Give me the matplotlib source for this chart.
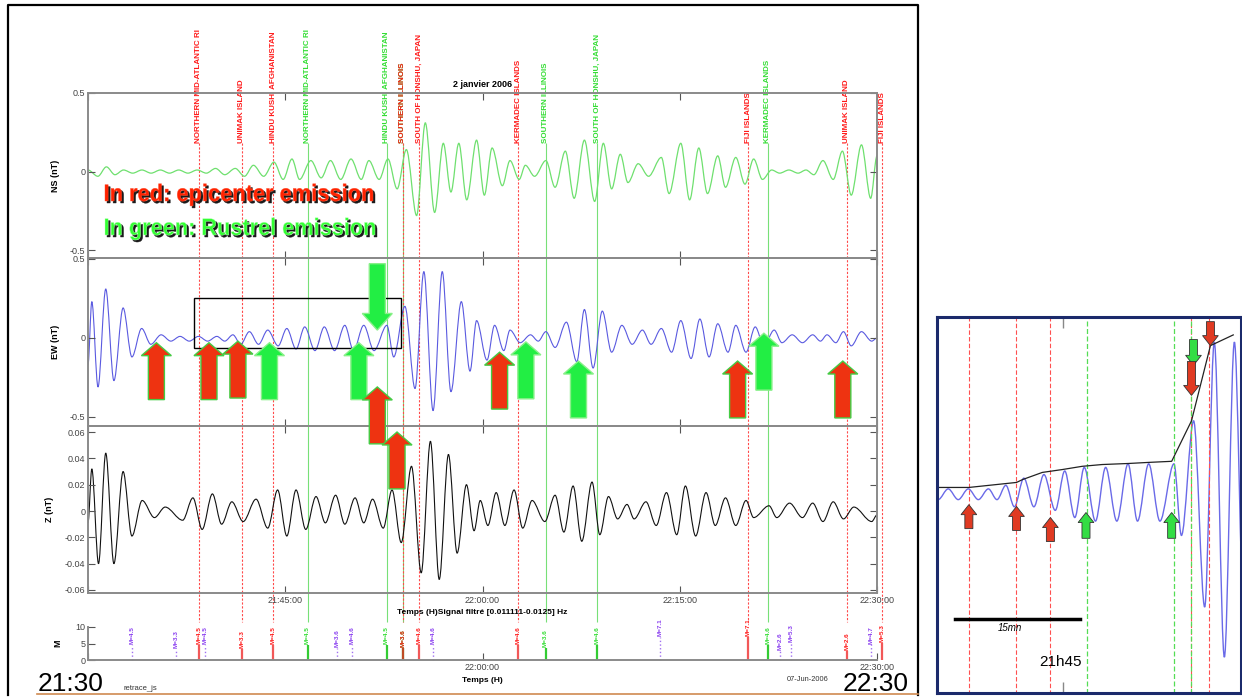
import numpy as np
import matplotlib.pyplot as plt
from matplotlib.path import Path
from matplotlib.patches import PathPatch, Polygon, Rectangle
from matplotlib.lines import Line2D
from matplotlib.textpath import TextPath
from matplotlib.font_manager import FontProperties
from matplotlib.transforms import Affine2D

plt.rcParams['font.family'] = ['Liberation Sans', 'DejaVu Sans']

# all times in minutes after 21:30:00 ; extrema of the filtered signals
ns_t = [0.0, 0.75, 1.4, 2.05, 2.7, 3.4, 4.1, 4.8, 5.5, 6.2,
        6.9, 7.6, 8.3, 9.0, 9.7, 10.4, 11.2, 11.9, 12.58, 13.36,
        14.14, 14.84, 15.51, 16.09, 16.95, 17.73, 18.44, 19.22, 20.0, 20.78,
        21.36, 22.14, 22.81, 23.51, 24.21, 24.99, 25.65, 26.36, 27.02, 27.6,
        28.2, 28.8, 29.55, 30.14, 30.73, 31.51, 32.09, 32.79, 33.26, 33.96,
        34.82, 35.52, 36.30, 36.97, 37.75, 38.53, 39.19, 39.82, 40.48, 41.06,
        41.84, 42.63, 43.60, 44.19, 45.08, 45.75, 46.45, 47.11, 47.89, 48.48,
        49.26, 49.96, 50.62, 51.29, 51.99, 52.6, 53.3, 54.0, 54.6, 55.2,
        55.89, 56.67, 57.37, 58.04, 58.82, 59.52, 60.0]
ns_v = [0.01, -0.03, 0.03, -0.02, 0.01, -0.01, 0.01, -0.01, 0.01, -0.01,
        0.01, -0.01, 0.01, -0.01, 0.02, -0.02, 0.02, -0.03, 0.04, -0.03,
        0.06, -0.05, 0.08, -0.05, 0.07, -0.04, 0.07, -0.05, 0.08, -0.05,
        0.07, -0.05, 0.08, -0.11, 0.14, -0.28, 0.31, -0.26, 0.18, -0.13,
        0.18, -0.18, 0.20, -0.15, 0.15, -0.09, 0.07, -0.05, 0.04, -0.03,
        0.07, -0.10, 0.13, -0.17, 0.20, -0.19, 0.18, -0.11, 0.11, -0.07,
        0.05, -0.03, 0.09, -0.14, 0.18, -0.18, 0.15, -0.14, 0.10, -0.10,
        0.09, -0.08, 0.08, -0.05, 0.01, -0.01, 0.01, -0.01, 0.01, -0.02,
        0.07, -0.05, 0.13, -0.15, 0.17, -0.17, 0.10]

ew_t = [0.0, 0.29, 0.76, 1.35, 1.97, 2.67, 3.34, 4.08, 4.78, 5.56,
        6.3, 7.0, 7.7, 8.4, 9.1, 9.8, 10.4, 11.02, 11.61, 12.27,
        12.97, 13.67, 14.46, 15.12, 15.82, 16.48, 17.26, 17.97, 18.75, 19.53,
        20.19, 20.97, 21.75, 22.73, 23.25, 24.1, 24.87, 25.54, 26.24, 26.94,
        27.60, 28.39, 29.05, 29.55, 30.34, 30.92, 31.62, 32.09, 32.87, 33.65,
        34.24, 34.82, 35.52, 36.38, 37.17, 37.75, 38.41, 39.11, 39.82, 40.60,
        41.38, 42.16, 42.82, 43.60, 44.38, 45.08, 45.86, 46.53, 47.23, 47.89,
        48.67, 49.26, 50.04, 50.74, 51.40, 52.18, 52.77, 53.55, 54.33, 55.11,
        55.70, 56.20, 56.87, 57.45, 58.04, 58.82, 59.60, 60.0]
ew_v = [-0.17, 0.23, -0.31, 0.31, -0.27, 0.19, -0.12, 0.06, -0.04, 0.02,
        -0.02, 0.01, -0.02, 0.01, -0.02, 0.01, -0.02, 0.02, -0.04, 0.04,
        -0.04, 0.05, -0.05, 0.06, -0.07, 0.07, -0.08, 0.07, -0.08, 0.08,
        -0.08, 0.08, -0.08, 0.08, -0.12, 0.20, -0.32, 0.42, -0.46, 0.42,
        -0.34, 0.23, -0.21, 0.11, -0.14, 0.08, -0.08, 0.05, -0.03, 0.02,
        -0.02, 0.04, -0.06, 0.10, -0.15, 0.18, -0.19, 0.17, -0.09, 0.08,
        -0.04, 0.05, -0.04, 0.06, -0.09, 0.11, -0.13, 0.12, -0.12, 0.09,
        -0.09, 0.08, -0.09, 0.07, -0.05, 0.05, -0.03, 0.02, -0.03, 0.02,
        -0.02, 0.02, -0.03, 0.04, -0.05, 0.04, -0.02, 0.0]

z_t = [0.0, 0.29, 0.80, 1.35, 1.97, 2.67, 3.34, 4.12, 5.05, 5.87,
       7.20, 7.98, 8.68, 9.46, 10.16, 10.94, 11.80, 12.78, 13.67, 14.42,
       15.12, 15.82, 16.56, 17.34, 18.05, 18.83, 19.53, 20.31, 20.97, 21.64,
       22.45, 23.12, 23.82, 24.60, 25.34, 26.04, 26.71, 27.41, 28.07, 28.78,
       29.36, 29.83, 30.41, 31.04, 31.70, 32.40, 33.06, 33.77, 34.74, 35.52,
       36.19, 36.89, 37.55, 38.33, 38.92, 39.58, 40.28, 40.99, 41.53, 42.43,
       43.21, 43.99, 44.77, 45.43, 46.21, 47.00, 47.70, 48.48, 49.26, 50.04,
       50.62, 51.79, 52.38, 53.35, 54.33, 55.11, 55.89, 56.67, 57.45, 58.24,
       59.60, 60.0]
z_v = [-0.009, 0.032, -0.040, 0.044, -0.040, 0.030, -0.019, 0.008, -0.005, 0.003,
       -0.007, 0.010, -0.014, 0.013, -0.010, 0.007, -0.008, 0.009, -0.013, 0.016,
       -0.019, 0.016, -0.014, 0.011, -0.009, 0.012, -0.010, 0.010, -0.009, 0.009,
       -0.013, 0.016, -0.024, 0.034, -0.047, 0.053, -0.052, 0.043, -0.032, 0.020,
       -0.015, 0.008, -0.011, 0.014, -0.011, 0.016, -0.013, 0.008, -0.008, 0.012,
       -0.016, 0.019, -0.023, 0.022, -0.018, 0.011, -0.006, 0.005, -0.006, 0.007,
       -0.011, 0.014, -0.018, 0.019, -0.019, 0.014, -0.011, 0.010, -0.011, 0.008,
       -0.005, 0.004, -0.005, 0.006, -0.005, 0.006, -0.008, 0.007, -0.006, 0.003,
       -0.008, -0.003]

# earthquakes: epicenter emission (red), Rustrel emission (green), others (purple)
red_t = [8.44, 11.7, 14.07, 23.95, 25.2, 32.7, 50.2, 57.7, 60.4]
red_names = ['NORTHERN MID-ATLANTIC RI', 'UNIMAK ISLAND', 'HINDU KUSH, AFGHANISTAN',
             'SOUTHERN ILLINOIS', 'SOUTH OF HONSHU, JAPAN', 'KERMADEC ISLANDS',
             'FIJI ISLANDS', 'UNIMAK ISLAND', 'FIJI ISLANDS']
red_mag = [4.5, 3.3, 4.5, 3.6, 4.6, 4.6, 7.1, 2.6, 5.3]
green_t = [16.7, 22.7, 23.95, 34.8, 38.7, 51.7]
green_names = ['NORTHERN MID-ATLANTIC RI', 'HINDU KUSH, AFGHANISTAN', 'SOUTHERN ILLINOIS',
               'SOUTHERN ILLINOIS', 'SOUTH OF HONSHU, JAPAN', 'KERMADEC ISLANDS']
green_mag = [4.5, 4.5, 3.6, 3.6, 4.6, 4.6]
other_t = [3.35, 6.69, 8.9, 18.94, 20.08, 26.24, 43.5, 52.62, 53.46, 59.54]
other_mag = [4.5, 3.3, 4.5, 3.6, 4.6, 4.6, 7.1, 2.6, 5.3, 4.7]

# arrows drawn on the EW panel (time, tip value)
up_red_t = [5.2, 9.2, 11.4, 31.3, 49.4, 57.4, 22.0, 23.5]
up_red_tip = [-0.03, -0.03, -0.02, -0.09, -0.146, -0.146, -0.31, -0.595]
up_green_t = [13.8, 20.6, 33.3, 37.3, 51.4]
up_green_tip = [-0.03, -0.03, -0.025, -0.146, 0.03]
down_green_t = [22.0]
down_green_tip = [0.05]

# zoomed inset: envelope and arrows
env_t = [6.22, 8.44, 11.76, 12.18, 13.56, 14.95, 16.33, 17.72, 19.59, 20.98, 22.57, 23.95, 25.27, 26.86]
env_v = [0.014, 0.014, 0.028, 0.036, 0.056, 0.064, 0.073, 0.078, 0.081, 0.084, 0.087, 0.20, 0.41, 0.44]
in_up_red_t = [8.44, 11.76, 14.12]
in_up_red_tip = [-0.034, -0.039, -0.07]
in_up_green_t = [16.6, 22.57]
in_up_green_tip = [-0.056, -0.056]
in_down_red_t = [23.95, 25.27]
in_down_red_tip = [0.271, 0.41]
in_down_green_t = [24.09]
in_down_green_tip = [0.355]

RED = '#ff1a1a'
GREEN = '#33dd33'
PURPLE = '#8a3ff0'

W_PX, H_PX = 1242, 700
L_PX, R_PX = 88, 877


def fx(x):
    return x / W_PX


def fy(y):
    return 1 - y / H_PX


def wave(t, v):
    verts = [(t[0], v[0])]
    codes = [Path.MOVETO]
    for i in range(len(t) - 1):
        dt = t[i + 1] - t[i]
        verts += [(t[i] + dt / 3, v[i]), (t[i] + 2 * dt / 3, v[i + 1]), (t[i + 1], v[i + 1])]
        codes += [Path.CURVE4] * 3
    return Path(verts, codes)


def arrow(t, tip, length, head, bw, hw, up=True):
    s = 1 if up else -1
    base = tip - s * length
    neck = tip - s * head
    return [(t, tip), (t + hw, neck), (t + bw, neck), (t + bw, base),
            (t - bw, base), (t - bw, neck), (t - hw, neck)]


fig = plt.figure(figsize=(12.42, 7.0), dpi=100)


def panel(top, bottom):
    return fig.add_axes([fx(L_PX), fy(bottom), (R_PX - L_PX) / W_PX, (bottom - top) / H_PX])


def squeezed(s, x, baseline, width, cap, color, edge):
    # condensed heavy caption, drawn as a horizontally squeezed text path
    tp = TextPath((0, 0), s, size=100, prop=FontProperties(family='Liberation Sans', weight='bold'))
    ext = tp.get_extents()
    sx = width / ext.width
    sy = cap / 71.6
    for dx, dy, fc, ec in [(2, -2, '#1a1a1a', '#1a1a1a'), (0, 0, color, edge)]:
        tr = Affine2D().scale(sx, sy).translate(x - ext.x0 * sx + dx, H_PX - baseline + dy)
        fig.add_artist(PathPatch(tp, transform=tr, facecolor=fc, edgecolor=ec, lw=0.3, zorder=10))


# overlay in (time, pixel) units for the event lines and their labels
ov = fig.add_axes([0, 0, 1, 1], zorder=0)
span = 60 / (R_PX - L_PX)
ov.set_xlim(-L_PX * span, (W_PX - L_PX) * span)
ov.set_ylim(H_PX, 0)
ov.axis('off')

ov.vlines(green_t, 143, 622, colors='#77e077', lw=0.8)
ov.vlines(red_t, 143, 622, colors='#ff4a4a', lw=0.8, linestyles=(0, (2, 1.5)))
for t, name in zip(green_t, green_names):
    ov.text(t, 143, name, rotation=90, ha='center', va='bottom', fontsize=5.8,
            fontweight='bold', color=GREEN)
for t, name in zip(red_t, red_names):
    ov.text(t, 143, name, rotation=90, ha='center', va='bottom', fontsize=5.8,
            fontweight='bold', color=RED)

ax_ns = panel(93, 258)
ax_ew = panel(258, 426)
ax_z = panel(426, 593)
ax_m = panel(627, 660)
ax_ns.set_zorder(1)
ax_ew.set_zorder(3)
ax_z.set_zorder(1)
ax_m.set_zorder(1)


def style(ax, ylim, yticks, ylabels, ylabel, lab_x):
    ax.set_facecolor('none')
    ax.set_xlim(0, 60)
    ax.set_ylim(*ylim)
    ax.set_xticks([0, 15, 30, 45, 60], ['', '21:45:00', '22:00:00', '22:15:00', '22:30:00'])
    ax.set_yticks(yticks, ylabels)
    ax.tick_params(direction='in', top=True, right=True, length=5, width=0.8,
                   color='#555555', labelsize=6.5, labelcolor='#444444', pad=2)
    for s in ax.spines.values():
        s.set_color('#8a8a8a')
        s.set_linewidth(1.4)
    ax.set_ylabel(ylabel, fontsize=6.5, fontweight='bold')
    ax.yaxis.set_label_coords(lab_x, 0.5)


style(ax_ns, (-0.55, 0.5), [-0.5, 0, 0.5], ['-0.5', '0', '0.5'], 'NS (nT)', -0.036)
style(ax_ew, (-0.557, 0.506), [-0.5, 0, 0.5], ['-0.5', '0', '0.5'], 'EW (nT)', -0.036)
style(ax_z, (-0.0623, 0.0646), [-0.06, -0.04, -0.02, 0, 0.02, 0.04, 0.06],
      ['-0.06', '-0.04', '-0.02', '0', '0.02', '0.04', '0.06'], 'Z (nT)', -0.043)
ax_ns.tick_params(labelbottom=False)
ax_ew.tick_params(labelbottom=False)

ax_ns.add_patch(PathPatch(wave(ns_t, ns_v), fill=False, edgecolor='#6fe06f', lw=0.9))
ax_ew.add_patch(PathPatch(wave(ew_t, ew_v), fill=False, edgecolor='#5a5ae0', lw=0.8))
ax_z.add_patch(PathPatch(wave(z_t, z_v), fill=False, edgecolor='#111111', lw=0.8))

ax_ns.set_title('2 janvier 2006', fontsize=6.5, fontweight='bold', pad=4)
ax_z.text(0.5, -(612 - 593) / 167, 'Temps (H)Signal filtré [0.011111-0.0125] Hz',
          transform=ax_z.transAxes, ha='center', va='center', fontsize=6, fontweight='bold')

squeezed('In red: epicenter emission', 105, 201, 268, 17, '#ff2200', '#ff5030')
squeezed('In green: Rustrel emission', 105, 235, 270, 17, '#33ff33', '#b8ffb8')

# arrows and box on EW panel
ax_ew.add_patch(Rectangle((8.06, -0.063), 23.8 - 8.06, 0.313, fill=False,
                          edgecolor='black', lw=1.0, zorder=4))
for t, tip in zip(up_green_t, up_green_tip):
    ax_ew.add_patch(Polygon(arrow(t, tip, 0.36, 0.082, 0.61, 1.14), closed=True,
                            facecolor='#22ee44', edgecolor='#88f088', lw=1, clip_on=False, zorder=5))
for t, tip in zip(down_green_t, down_green_tip):
    ax_ew.add_patch(Polygon(arrow(t, tip, 0.42, 0.105, 0.61, 1.14, up=False), closed=True,
                            facecolor='#22ee44', edgecolor='#88f088', lw=1, clip_on=False, zorder=5))
for t, tip in zip(up_red_t, up_red_tip):
    ax_ew.add_patch(Polygon(arrow(t, tip, 0.36, 0.082, 0.61, 1.14), closed=True,
                            facecolor='#ee3311', edgecolor='#44cc44', lw=1, clip_on=False, zorder=6))

# magnitude panel
ax_m.set_facecolor('none')
ax_m.set_xlim(0, 60)
ax_m.set_ylim(0, 10)
ax_m.set_xticks([0, 30, 60], ['', '22:00:00', '22:30:00'])
ax_m.set_yticks([0, 5, 10], ['0', '5', '10'])
ax_m.tick_params(direction='in', length=5, width=0.8, color='#555555', labelsize=6.5,
                 labelcolor='#444444', pad=2)
for k in ['top', 'right']:
    ax_m.spines[k].set_visible(False)
for k in ['left', 'bottom']:
    ax_m.spines[k].set_color('#8a8a8a')
    ax_m.spines[k].set_linewidth(1.4)
ax_m.set_ylabel('M', fontsize=6.5, fontweight='bold')
ax_m.yaxis.set_label_coords(-0.032, 0.5)
ax_m.text(0.5, -(680 - 660) / 33, 'Temps (H)', transform=ax_m.transAxes, ha='center',
          va='center', fontsize=6, fontweight='bold')

ax_m.vlines(other_t, 0, other_mag, colors='#a070f0', lw=1, linestyles=':', clip_on=False)
ax_m.vlines(green_t, 0, green_mag, colors='#33cc33', lw=1.6, clip_on=False)
ax_m.vlines(red_t, 0, red_mag, colors='#ee2020', lw=1.6, alpha=0.75, clip_on=False)
for ts, ms, c in [(other_t, other_mag, PURPLE), (green_t, green_mag, GREEN), (red_t, red_mag, RED)]:
    for t, m in zip(ts, ms):
        ax_m.text(t, m + 0.3, f'M={m}', rotation=90, ha='center', va='bottom', fontsize=4.6,
                  fontweight='bold', color=c, clip_on=False)

# zoomed inset on the right
ax_in = fig.add_axes([fx(937), fy(693), 304 / W_PX, 376 / H_PX], zorder=2)
ax_in.set_xlim(6.22, 27.4)
ax_in.set_ylim(-0.56, 0.49)
ax_in.set_xticks([15])
ax_in.set_yticks([])
ax_in.tick_params(axis='x', direction='in', length=8, width=1, color='#888888',
                  top=True, bottom=True, labelbottom=False)
for s in ax_in.spines.values():
    s.set_color('#1b2a6b')
    s.set_linewidth(2.2)
ax_in.vlines(red_t, -1, 1, colors='#ff5050', lw=0.8, linestyles=(0, (4, 2)))
ax_in.vlines(green_t, -1, 1, colors='#55dd55', lw=0.9, linestyles=(0, (4, 2)))
ax_in.add_patch(PathPatch(wave(ew_t, ew_v), fill=False, edgecolor='#6a6ae8', lw=1.0))
ax_in.plot(env_t, env_v, color='#222222', lw=0.9)
for t, tip in zip(in_up_red_t, in_up_red_tip):
    ax_in.add_patch(Polygon(arrow(t, tip, 0.067, 0.028, 0.28, 0.55), closed=True,
                            facecolor='#e03a22', edgecolor='#333333', lw=0.6, zorder=5))
for t, tip in zip(in_up_green_t, in_up_green_tip):
    ax_in.add_patch(Polygon(arrow(t, tip, 0.072, 0.028, 0.28, 0.55), closed=True,
                            facecolor='#33dd44', edgecolor='#333333', lw=0.6, zorder=5))
for t, tip in zip(in_down_green_t, in_down_green_tip):
    ax_in.add_patch(Polygon(arrow(t, tip, 0.072, 0.028, 0.28, 0.55, up=False), closed=True,
                            facecolor='#33dd44', edgecolor='#333333', lw=0.6, zorder=5))
for t, tip, ln in zip(in_down_red_t, in_down_red_tip, [0.095, 0.067]):
    ax_in.add_patch(Polygon(arrow(t, tip, ln, 0.028, 0.28, 0.55, up=False), closed=True,
                            facecolor='#e03a22', edgecolor='#333333', lw=0.6, zorder=5))
ax_in.plot([0.059, 0.47], [0.197, 0.197], transform=ax_in.transAxes, color='black', lw=2.5)
ax_in.text(0.24, 0.172, '15mn', transform=ax_in.transAxes, fontsize=7, style='italic',
           ha='center', va='center')
ax_in.text(0.405, 0.082, '21h45', transform=ax_in.transAxes, fontsize=11,
           ha='center', va='center')

# frame and corner texts
fig.add_artist(Line2D([fx(8), fx(8), fx(918), fx(918)], [fy(695), fy(5), fy(5), fy(695)],
                      transform=fig.transFigure, color='black', lw=1.6))
fig.add_artist(Line2D([fx(37), fx(918)], [fy(694), fy(694)], transform=fig.transFigure,
                      color='#d08a50', lw=1.2))
fig.text(fx(124), fy(690), 'retrace_js', fontsize=5.5, color='#333333', va='baseline')
fig.text(fx(38), fy(691), '21:30', fontsize=19, va='baseline')
fig.text(fx(843), fy(691), '22:30', fontsize=19, va='baseline')
fig.text(fx(787), fy(681), '07-Jun-2006', fontsize=5.3, color='#333333', va='baseline')

fig.savefig('out.png', dpi=100)
